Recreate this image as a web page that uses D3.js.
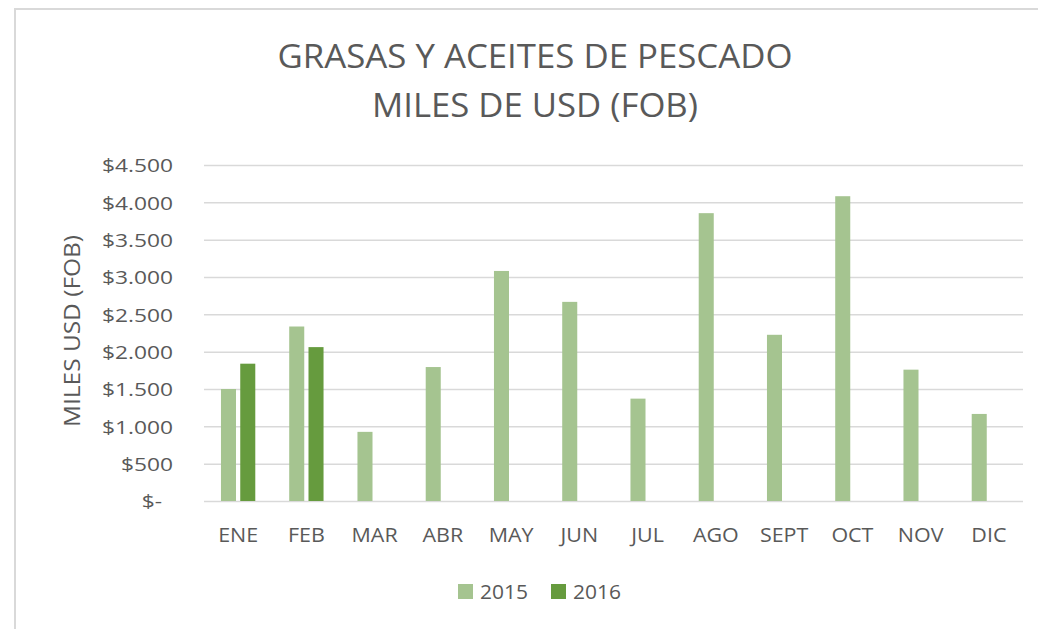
<!DOCTYPE html>
<html>
<head>
<meta charset="utf-8">
<script src="https://cdn.jsdelivr.net/npm/d3@7"></script>
<style>
  body { margin: 0; background: #fff; }
  text { font-family: "Open Sans", sans-serif; fill: #595959; }
</style>
</head>
<body>
<script>
// data (miles de USD FOB)
var months = ['ENE', 'FEB', 'MAR', 'ABR', 'MAY', 'JUN', 'JUL', 'AGO', 'SEPT', 'OCT', 'NOV', 'DIC'];
var years = ['2015', '2016'];
var values2015 = [1500, 2337, 926, 1794, 3081, 2667, 1371, 3855, 2226, 4082, 1759, 1166];
var values2016 = [1839, 2061, null, null, null, null, null, null, null, null, null, null];
var yTicks = [0, 500, 1000, 1500, 2000, 2500, 3000, 3500, 4000, 4500];
var titleLines = ['GRASAS Y ACEITES DE PESCADO', 'MILES DE USD (FOB)'];
var yTitle = 'MILES USD (FOB)';

var colors = d3.scaleOrdinal().domain(years).range(['#a5c490', '#669b3e']);

var width = 1038,
    height = 629;

var svg = d3.select('body').append('svg')
    .attr('width', width)
    .attr('height', height);

// chart border (cut off at right and bottom like the screenshot)
svg.append('rect')
    .attr('x', 15).attr('y', 9)
    .attr('width', 1100).attr('height', 700)
    .attr('fill', '#fff')
    .attr('stroke', '#d9d9d9')
    .attr('stroke-width', 2);

var plot = { left: 204, right: 1023, top: 165, bottom: 501 };

var x = d3.scaleBand()
    .domain(months)
    .range([plot.left, plot.right]);

var x1 = d3.scaleBand()
    .domain(years)
    .range([0, x.bandwidth()])
    .paddingInner(0.22)
    .paddingOuter(0.88);

var y = d3.scaleLinear()
    .domain([0, 4500])
    .range([plot.bottom, plot.top]);

var locale = d3.formatLocale({ decimal: ',', thousands: '.', grouping: [3], currency: ['$', ''] });
var fmt = locale.format('$,.0f');

// stretch a text selection so it takes the width seen in the reference
function stretch(sel, k) {
    sel.each(function () {
        var w = this.getComputedTextLength();
        d3.select(this).attr('textLength', w * k).attr('lengthAdjust', 'spacingAndGlyphs');
    });
}
function factor(sel, target) {
    var w = 0;
    sel.each(function () { w = Math.max(w, this.getComputedTextLength()); });
    return target / w;
}

// y axis + gridlines
var yAxis = svg.append('g')
    .attr('transform', `translate(${plot.left},0)`)
    .call(d3.axisLeft(y)
        .tickValues(yTicks)
        .tickSize(-(plot.right - plot.left))
        .tickPadding(31)
        .tickFormat(function (d) { return d === 0 ? '$-' : fmt(d); }));

yAxis.select('.domain').remove();
yAxis.selectAll('.tick line')
    .attr('stroke', '#d9d9d9')
    .attr('stroke-width', 1.5);
var yLabels = yAxis.selectAll('.tick text')
    .attr('fill', '#595959')
    .style('font-size', '19px')
    .attr('dy', '0.36em');
stretch(yLabels, factor(yLabels.filter(function (d) { return d === 4500; }), 71));
yLabels.filter(function (d) { return d === 0; }).attr('dx', -11);

// bars
var series = years.map(function (yr, i) {
    var vals = i === 0 ? values2015 : values2016;
    return months.map(function (m, j) { return { month: m, year: yr, value: vals[j] }; })
        .filter(function (d) { return d.value != null; });
});

svg.selectAll('.series')
    .data(series)
    .enter()
    .append('g')
    .attr('class', 'series')
    .selectAll('rect')
    .data(function (d) { return d; })
    .enter()
    .append('rect')
    .attr('x', function (d) { return x(d.month) + x1(d.year); })
    .attr('y', function (d) { return y(d.value); })
    .attr('width', x1.bandwidth())
    .attr('height', function (d) { return y(0) - y(d.value); })
    .attr('fill', function (d) { return colors(d.year); });

// x axis labels
var xAxis = svg.append('g')
    .attr('transform', `translate(0,${plot.bottom})`)
    .call(d3.axisBottom(x).tickSize(0));
xAxis.select('.domain').remove();
var xLabels = xAxis.selectAll('.tick text')
    .attr('fill', '#595959')
    .attr('dy', null)
    .attr('y', 41)
    .style('font-size', '19.5px');
stretch(xLabels, factor(xLabels.filter(function (d) { return d === 'ENE'; }), 40));

// title
var title = svg.append('g');
title.selectAll('text')
    .data(titleLines)
    .enter()
    .append('text')
    .attr('x', 535)
    .attr('y', function (d, i) { return 68 + i * 49; })
    .attr('text-anchor', 'middle')
    .style('font-size', '32px')
    .text(function (d) { return d; })
    .each(function (d, i) {
        d3.select(this).attr('textLength', i === 0 ? 515 : 326).attr('lengthAdjust', 'spacingAndGlyphs');
    });

// y axis title
svg.append('text')
    .attr('transform', 'translate(80,331) rotate(-90)')
    .attr('text-anchor', 'middle')
    .style('font-size', '21px')
    .attr('textLength', 192)
    .attr('lengthAdjust', 'spacingAndGlyphs')
    .text(yTitle);

// legend
var legend = svg.append('g')
    .selectAll('g')
    .data(years)
    .enter()
    .append('g')
    .attr('transform', function (d, i) { return `translate(${458 + i * 93},584)`; });

legend.append('rect')
    .attr('width', 15)
    .attr('height', 15)
    .attr('fill', function (d) { return colors(d); });

var legendText = legend.append('text')
    .attr('x', 22)
    .attr('y', 15)
    .style('font-size', '19.5px')
    .text(function (d) { return d; });
stretch(legendText, factor(legendText.filter(function (d) { return d === '2015'; }), 48));
</script>
</body>
</html>
